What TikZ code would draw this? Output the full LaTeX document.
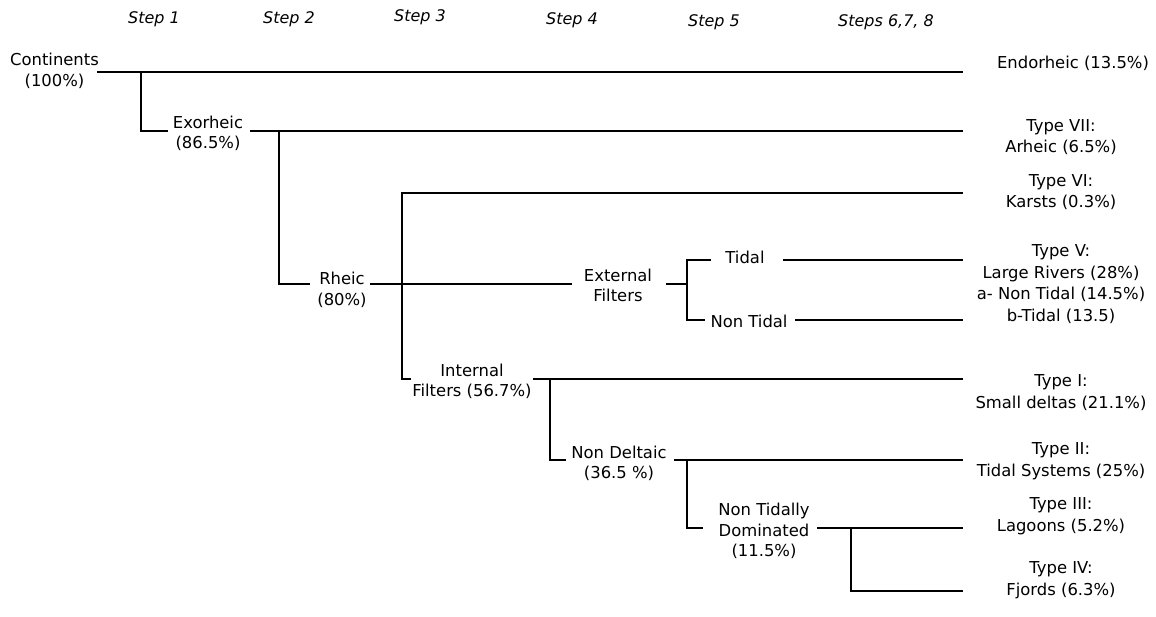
\documentclass[tikz,border=0pt]{standalone}
\usepackage{fontspec}
\setmainfont{DejaVu Sans}
\begin{document}
\begin{tikzpicture}[x=0.75pt,y=-0.75pt,
  lbl/.style={font=\fontsize{12.3}{15.5}\selectfont, align=center, inner sep=0pt},
  rlbl/.style={font=\fontsize{12.3}{16.2}\selectfont, align=center, inner sep=0pt},
  steplbl/.style={font=\fontsize{12}{15.5}\selectfont\itshape, inner sep=0pt},
  ln/.style={line width=0.9pt, black}]
\useasboundingbox (0,0) rectangle (1156,617);
% step headers
\node[steplbl] (s1) at (154,19) {Step 1};
\node[steplbl] (s2) at (289,19) {Step 2};
\node[steplbl] (s3) at (420,17) {Step 3};
\node[steplbl] (s4) at (572,20) {Step 4};
\node[steplbl] (s5) at (714,22) {Step 5};
\node[steplbl] (s6) at (886,22) {Steps 6,7, 8};
% left / inner nodes
\node[lbl] (cont) at (54.5,71) {Continents\\(100\%)};
\node[lbl] (exo) at (208,133.5) {Exorheic\\(86.5\%)};
\node[lbl] (rheic) at (342,290) {Rheic\\(80\%)};
\node[lbl] (ext) at (618,285.5) {External\\Filters};
\node[lbl] (tidal) at (745,257) {Tidal};
\node[lbl] (ntidal) at (749,321) {Non Tidal};
\node[lbl] (intf) at (472,381.5) {Internal\\Filters (56.7\%)};
\node[lbl] (ndelt) at (619,463.5) {Non Deltaic\\(36.5 \%)};
\node[lbl] (ntd) at (764,531) {Non Tidally\\Dominated\\(11.5\%)};
% right nodes
\node[rlbl] (endo) at (1073,63) {Endorheic (13.5\%)};
\node[rlbl] (t7) at (1061,137) {Type VII:\\Arheic (6.5\%)};
\node[rlbl] (t6) at (1061,192) {Type VI:\\Karsts (0.3\%)};
\node[rlbl] (t5) at (1061,284) {Type V:\\Large Rivers (28\%)\\a- Non Tidal (14.5\%)\\b-Tidal (13.5)};
\node[rlbl] (t1) at (1061,392.5) {Type I:\\Small deltas (21.1\%)};
\node[rlbl] (t2) at (1061,461) {Type II:\\Tidal Systems (25\%)};
\node[rlbl] (t3) at (1061,516) {Type III:\\Lagoons (5.2\%)};
\node[rlbl] (t4) at (1061,580) {Type IV:\\Fjords (6.3\%)};
% coordinates
\coordinate (c0) at (97,72);   \coordinate (c1) at (963,72);
\coordinate (cj) at (141,72);  \coordinate (cjb) at (141,131); \coordinate (ce) at (168,131);
\coordinate (x0) at (250,131); \coordinate (x1) at (963,131);
\coordinate (xj) at (279,131); \coordinate (xjb) at (279,284); \coordinate (xe) at (310,284);
\coordinate (r0) at (370,284); \coordinate (r1) at (572,284);
\coordinate (rt) at (402,193); \coordinate (rt1) at (963,193);
\coordinate (rb) at (402,379); \coordinate (rbe) at (411,379);
\coordinate (e0) at (666,284); \coordinate (ej) at (687,284);
\coordinate (et) at (687,260); \coordinate (ete) at (711,260);
\coordinate (eb) at (687,320); \coordinate (ebe) at (705,320);
\coordinate (td0) at (783,260); \coordinate (td1) at (963,260);
\coordinate (nt0) at (795,320); \coordinate (nt1) at (963,320);
\coordinate (i0) at (533,379); \coordinate (i1) at (963,379);
\coordinate (ij) at (550,379); \coordinate (ijb) at (550,460); \coordinate (ie) at (566,460);
\coordinate (n0) at (674,460); \coordinate (n1) at (963,460);
\coordinate (nj) at (687,460); \coordinate (njb) at (687,528); \coordinate (ne) at (703,528);
\coordinate (d0) at (817,528); \coordinate (d1) at (963,528);
\coordinate (dj) at (851,528); \coordinate (djb) at (851,591); \coordinate (d2) at (963,591);
% connectors
\draw[ln] (c0) -- (c1);
\draw[ln] (cj) -- (cjb) -- (ce);
\draw[ln] (x0) -- (x1);
\draw[ln] (xj) -- (xjb) -- (xe);
\draw[ln] (r0) -- (r1);
\draw[ln] (rt1) -- (rt) -- (rb) -- (rbe);
\draw[ln] (e0) -- (ej);
\draw[ln] (ete) -- (et) -- (eb) -- (ebe);
\draw[ln] (td0) -- (td1);
\draw[ln] (nt0) -- (nt1);
\draw[ln] (i0) -- (i1);
\draw[ln] (ij) -- (ijb) -- (ie);
\draw[ln] (n0) -- (n1);
\draw[ln] (nj) -- (njb) -- (ne);
\draw[ln] (d0) -- (d1);
\draw[ln] (dj) -- (djb) -- (d2);
\end{tikzpicture}
\end{document}
